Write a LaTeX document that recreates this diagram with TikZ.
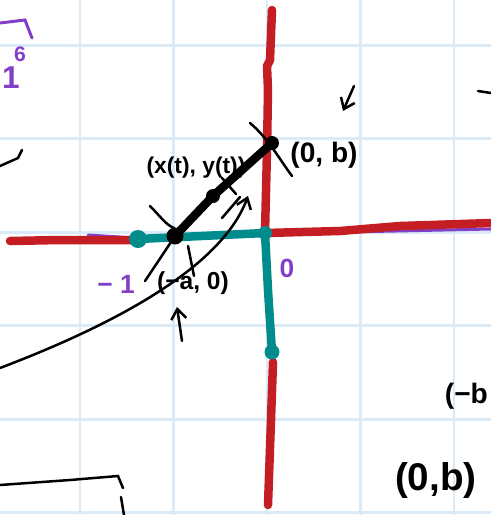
\documentclass[tikz,border=0pt]{standalone}
\usepackage{fontspec}
\setmainfont{Liberation Sans}
\usetikzlibrary{arrows.meta}
\definecolor{gridblue}{RGB}{218,234,247}
\definecolor{axisred}{RGB}{196,30,36}
\definecolor{axisteal}{RGB}{0,140,140}
\definecolor{markpurple}{RGB}{130,64,200}

\begin{document}
\begin{tikzpicture}[
        x=0.02cm, y=-0.02cm,
        gridline/.style={draw=gridblue, line width=0.06cm},
        redaxis/.style={draw=axisred, line width=0.17cm, line cap=round, line join=round},
        tealaxis/.style={draw=axisteal, line width=0.17cm, line cap=round, line join=round},
        purpleink/.style={draw=markpurple, line width=0.06cm, line cap=round},
        ink/.style={draw=black, line width=0.05cm, line cap=round},
        thickink/.style={draw=black, line width=0.17cm, line cap=round},
        point/.style={circle, fill=black, inner sep=0pt, minimum size=0.34cm},
        tealdot/.style={circle, fill=axisteal, inner sep=0pt, minimum size=0.36cm},
        label/.style={text=black, font=\fontsize{13}{15}\selectfont\bfseries, inner sep=1pt},
        purplelabel/.style={text=markpurple, font=\fontsize{15}{17}\selectfont\bfseries, inner sep=1pt}
    ]
        \useasboundingbox (0,0) rectangle (491,515);

        % Grid
        \foreach \g in {80,173.5,267,360.5,454}
            \draw[gridline] (\g,0) -- (\g,515);
        \foreach \g in {45,138.5,232,325.5,419,512.5}
            \draw[gridline] (0,\g) -- (491,\g);

        % Purple marks under the axes
        \draw[purpleink] (88,235) -- (135,238);
        \draw[purpleink] (300,233) -- (491,229);
        \draw[purpleink] (269,390) -- (269,430);

        % Axes
        \coordinate (origin) at (265,233);
        \coordinate (redleftend) at (10,241);
        \coordinate (tealleftend) at (138,239);
        \coordinate (redtopend) at (272,10);
        \coordinate (redrightend) at (491,223);
        \coordinate (tealbottomend) at (272,352);
        \coordinate (redbottomend) at (268,505);
        \draw[redaxis] (redleftend) -- (60,240) -- (134,240);
        \draw[redaxis] (redtopend) -- (270,60) -- (267,66) -- (268,90) -- (267,150) -- (origin);
        \draw[redaxis] (origin) -- (340,231) -- (400,226) -- (redrightend);
        \draw[redaxis] (273,362) -- (271,420) -- (redbottomend);
        \draw[tealaxis] (tealleftend) -- (origin);
        \draw[tealaxis] (origin) -- (268,290) -- (tealbottomend);
        \node[tealdot] (tealleft) at (tealleftend) {};
        \node[tealdot, minimum size=0.28cm] (tealorigin) at (origin) {};
        \node[tealdot, minimum size=0.3cm] (tealbottom) at (tealbottomend) {};

        % Points and segment
        \node[point] (pa) at (175,236) {};
        \node[point, minimum size=0.28cm] (pt) at (213,196) {};
        \node[point, minimum size=0.28cm] (pb) at (272,143) {};
        \draw[thickink] (pa.center) -- (pt.center) -- (pb.center);
        \draw[ink] (pa.center) -- (145,281);
        \draw[ink] (222,178) -- (236,194);

        % Crossing arcs
        \draw[ink] (150,206) .. controls (160,216) and (166,225) .. (174,228);
        \draw[ink] (250,123) .. controls (268,138) and (280,160) .. (292,176);
        \draw[ink] (188,246) -- (194,276);

        % Labels
        \node[label] (ptlabel) at (196,168) {(x(t), y(t))};
        \node[label, font=\fontsize{16}{18}\selectfont\bfseries] (pblabel) at (324,155) {(0, b)};
        \node[label, font=\fontsize{14}{16}\selectfont\bfseries] (palabel) at (193,283) {(−a, 0)};
        \node[purplelabel] (minusone) at (116,284) {− 1};
        \node[purplelabel] (zero) at (287,268) {0};
        \node[label, font=\fontsize{22}{24}\selectfont\bfseries, anchor=west] (pbcopy) at (393,480) {(0,b)};
        \node[label, font=\fontsize{16}{18}\selectfont\bfseries, anchor=east] (negb) at (490,396) {(−b};
        \node[purplelabel, font=\fontsize{18}{20}\selectfont\bfseries, anchor=west] (one) at (0,78) {1};
        \node[purplelabel, font=\fontsize{12}{14}\selectfont\bfseries] (six) at (20,54) {6};

        % Pointer arrows
        \coordinate (bpointer) at (354,86);
        \coordinate (apointer) at (182,341);
        \draw[ink, -{Straight Barb[length=2mm, width=3mm]}] (bpointer) -- (343,111);
        \draw[ink, -{Straight Barb[length=2mm, width=3mm]}] (apointer) -- (177,307);
        \coordinate (curvestart) at (0,368);
        \draw[ink, -{Straight Barb[length=2mm, width=3mm]}] (curvestart) .. controls (100,330) and (220,272) .. (248,196);
        \draw[ink] (222,218) -- (240,197);

        % Loose strokes
        \draw[purpleink] (0,23) -- (25,20) -- (32,38);
        \draw[ink] (0,166) -- (18,158) -- (22,150);
        \draw[ink] (478,91) -- (491,93);
        \draw[ink] (0,485) -- (70,480) -- (118,476) -- (123,488);
        \draw[ink] (121,497) -- (124,515);
    \end{tikzpicture}
\end{document}
